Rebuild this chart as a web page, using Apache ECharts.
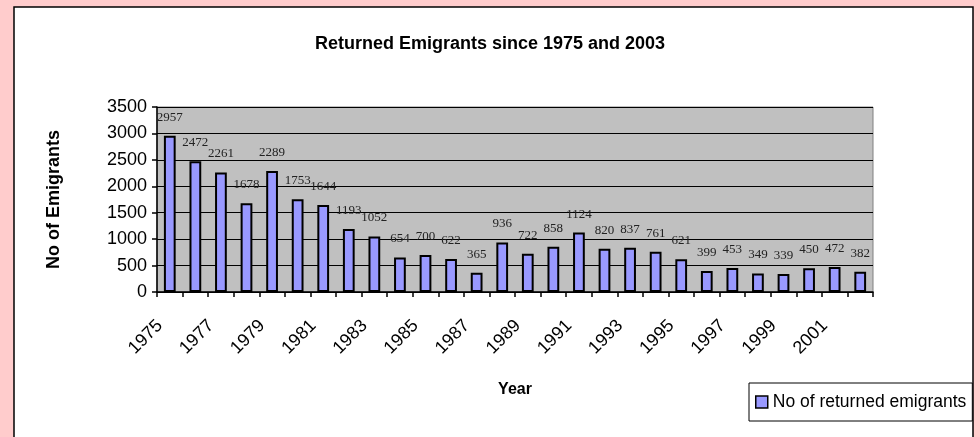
<!DOCTYPE html>
<html>
<head>
<meta charset="utf-8">
<script src="https://cdn.jsdelivr.net/npm/echarts@6/dist/echarts.min.js"></script>
<style>
  html, body { margin: 0; padding: 0; background: #FFCCCC; }
  #chart { width: 980px; height: 437px; }
</style>
</head>
<body>
<div id="chart"></div>
<script>
// Returned emigrants per year, 1975 to 2002
const years = ['1975','1976','1977','1978','1979','1980','1981','1982','1983','1984',
               '1985','1986','1987','1988','1989','1990','1991','1992','1993','1994',
               '1995','1996','1997','1998','1999','2000','2001','2002'];
const returned = [2957, 2472, 2261, 1678, 2289, 1753, 1644, 1193, 1052, 654,
                  700, 622, 365, 936, 722, 858, 1124, 820, 837, 761,
                  621, 399, 453, 349, 339, 450, 472, 382];
const yTicks = { min: 0, max: 3500, step: 500 };

const SANS = 'Arial, "Liberation Sans", sans-serif';
const SERIF = '"Times New Roman", "Liberation Serif", serif';

const chart = echarts.init(document.getElementById('chart'), null, { renderer: 'canvas' });

chart.setOption({
  backgroundColor: '#FFCCCC',
  animation: false,
  graphic: [{
    type: 'rect',
    z: -10,
    silent: true,
    shape: { x: 14, y: 7, width: 959, height: 445 },
    style: { fill: '#FFFFFF', stroke: '#000000', lineWidth: 1.5 }
  }],
  title: {
    text: 'Returned Emigrants since 1975 and 2003',
    left: 'center',
    top: 30,
    textStyle: { fontFamily: SANS, fontWeight: 'bold', fontSize: 18, color: '#000' }
  },
  legend: {
    left: 749,
    top: 383,
    orient: 'horizontal',
    backgroundColor: '#FFFFFF',
    borderColor: '#000000',
    borderWidth: 1,
    padding: [10, 6, 10, 6],
    icon: 'rect',
    itemWidth: 12,
    itemHeight: 12,
    itemGap: 4,
    textStyle: { fontFamily: SANS, fontSize: 17.5, color: '#000' },
    data: [{ name: 'No of returned emigrants', itemStyle: { borderColor: '#000', borderWidth: 1.5 } }]
  },
  grid: {
    left: 157,
    right: 107,
    top: 107,
    bottom: 145,
    show: true,
    backgroundColor: '#C0C0C0',
    borderColor: '#808080',
    borderWidth: 1
  },
  xAxis: {
    type: 'category',
    data: years,
    name: 'Year',
    nameLocation: 'middle',
    nameGap: 90,
    nameTextStyle: { fontFamily: SANS, fontWeight: 'bold', fontSize: 16, color: '#000' },
    axisLine: { show: true, lineStyle: { color: '#000', width: 1.5 } },
    axisTick: { show: true, interval: 0, length: 5, lineStyle: { color: '#000', width: 1.5 } },
    axisLabel: {
      interval: 1,
      rotate: 45,
      margin: 21,
      padding: [0, 14, 0, 0],
      fontFamily: SANS,
      fontSize: 18,
      color: '#000'
    },
    splitLine: { show: false }
  },
  yAxis: {
    type: 'value',
    min: yTicks.min,
    max: yTicks.max,
    interval: yTicks.step,
    name: 'No of Emigrants',
    nameLocation: 'middle',
    nameRotate: 90,
    nameGap: 94,
    nameTextStyle: { fontFamily: SANS, fontWeight: 'bold', fontSize: 18, color: '#000' },
    axisLine: { show: true, lineStyle: { color: '#000', width: 1.5 } },
    axisTick: { show: true, length: 5, lineStyle: { color: '#000', width: 1.5 } },
    axisLabel: {
      margin: 10,
      fontFamily: SANS,
      fontSize: 18,
      color: '#000',
      formatter: (v) => String(v)
    },
    splitLine: { show: true, lineStyle: { color: '#000', width: 1 } }
  },
  series: [{
    name: 'No of returned emigrants',
    type: 'bar',
    data: returned,
    barWidth: '46%',
    itemStyle: { color: '#9999FF', borderColor: '#000000', borderWidth: 2 },
    label: {
      show: true,
      position: 'top',
      distance: 12,
      fontFamily: SERIF,
      fontSize: 13,
      color: '#222'
    }
  }]
});
</script>
</body>
</html>
